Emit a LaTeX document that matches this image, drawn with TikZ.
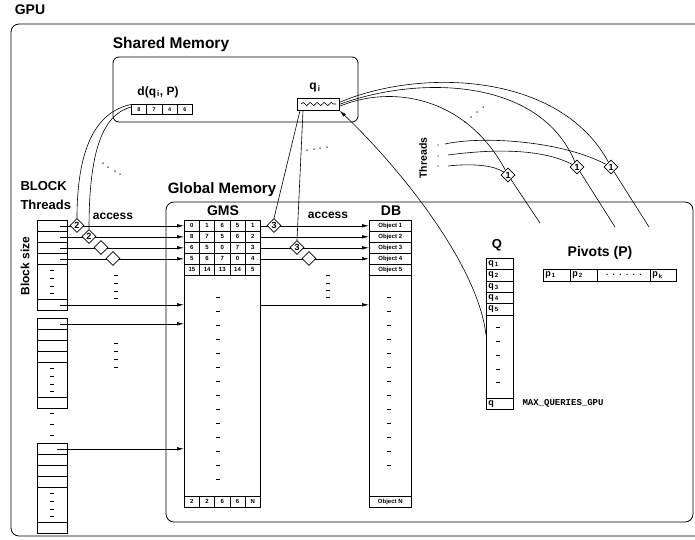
\documentclass[tikz,border=0pt]{standalone}
\usepackage{fontspec}
\setmainfont{Liberation Sans}
\setmonofont{Liberation Mono}
\usetikzlibrary{shapes.geometric,arrows.meta,decorations.pathmorphing}
\newcommand\fsz[1]{\fontsize{#1}{#1}\selectfont}
\tikzset{
  mem/.style={draw,rounded corners=8pt,line width=.8pt},
  cell/.style={draw,line width=.6pt,inner sep=0pt,anchor=north west,font=\bfseries\fsz{6}},
  qcell/.style={cell,inner xsep=2pt,text width=23pt,align=left,minimum height=11.3pt,font=\bfseries\fsz{9}},
  pcell/.style={cell,inner xsep=2pt,align=left,minimum height=12pt,font=\bfseries\fsz{9}},
  head/.style={font=\bfseries\fsz{#1}},
  dashmark/.style={line width=.9pt},
  wire/.style={line width=.6pt},
  ptr/.style={line width=.6pt,-{Latex[length=7pt,width=3.5pt]}},
  pass/.style={diamond,draw,fill=white,inner sep=0pt,minimum size=14pt,line width=.6pt,font=\bfseries\fsz{9}},
}
\begin{document}
\begin{tikzpicture}[x=1pt,y=-1pt]
  \useasboundingbox (0,0) rectangle (695,539);
  \draw[mem] (11,24) rectangle (705,536);
  \draw[mem,rounded corners=6pt] (113,57) rectangle (358,122);
  \draw[mem] (166,202) rectangle (693,522);

  \node[head=14] (gpu) at (30,10) {GPU};
  \node[head=15.5] (shmem) at (171,44) {Shared Memory};
  \node[head=15] (glmem) at (222,190) {Global Memory};
  \node[head=14] (gmstitle) at (223,211) {GMS};
  \node[head=14] (dbtitle) at (391,211) {DB};
  \node[head=13] (qtitle) at (497,245) {Q};
  \node[head=14] (pvtitle) at (600,253) {Pivots (P)};
  \node[head=13,anchor=west] (blockl) at (17,186) {BLOCK};
  \node[head=13,anchor=west] (threadl) at (17,205) {Threads};
  \node[head=12,rotate=90] (bsize) at (25,266) {Block size};
  \node[head=12] (acc1) at (113,216) {access};
  \node[head=12] (acc2) at (328,215) {access};
  \node[head=10.5,rotate=90] (thrl) at (423,158) {Threads};
  \node[head=12] (dlabel) at (158,92) {d(q\kern1pt\textsubscript{i}, P)};
  \node[head=12] (qilabel) at (315,88) {q\kern1pt\textsubscript{i}};

  % shared memory
  \foreach \v [count=\c] in {8,7,4,6}
    \node[cell,minimum width=15.3pt,minimum height=10pt,font=\bfseries\fsz{5.5}] (d\c) at ({131+15.3*(\c-1)},104) {\v};
  \node[cell,minimum width=42pt,minimum height=12pt] (qi) at (297,98) {};
  \draw[wire,decorate,decoration={snake,segment length=7pt,amplitude=1.6pt}] (301,104) -- (336,104);

  % GMS and DB
  \node[cell,minimum width=76pt,minimum height=287pt] (gmscol) at (184,220) {};
  \foreach \row [count=\r] in {{0,1,6,5,1},{8,7,5,6,2},{6,5,0,7,3},{5,6,7,0,4},{15,14,13,14,5}}
    \foreach \v [count=\c] in \row
      \node[cell,minimum width=15.2pt,minimum height=11pt] (g\r\c) at ({184+15.2*(\c-1)},{220+11*(\r-1)}) {\v};
  \foreach \v [count=\c] in {2,2,6,6,N}
    \node[cell,minimum width=15.2pt,minimum height=11pt] (gN\c) at ({184+15.2*(\c-1)},496) {\v};
  \foreach \i in {0,...,13}
    \draw[dashmark] (216.2,{297+14*\i}) -- ++(3.6,0);

  \node[cell,minimum width=42pt,minimum height=287pt] (dbcol) at (369,220) {};
  \foreach \r in {1,...,5}
    \node[cell,minimum width=42pt,minimum height=11pt] (db\r) at (369,{220+11*(\r-1)}) {Object \r};
  \node[cell,minimum width=42pt,minimum height=11pt] (dbN) at (369,496) {Object N};
  \foreach \i in {0,...,12}
    \draw[dashmark] (387.2,{297+14*\i}) -- ++(3.6,0);

  % thread blocks
  \foreach \t/\n in {220/A,318/B,443/C} {
    \foreach \o/\h [count=\k] in {0/11,11/11,22/11,33/11,44/35,79/11}
      \node[cell,minimum width=30pt,minimum height=\h pt] (blk\n\k) at (37,\t+\o) {};
    \foreach \o in {50,58,66,73}
      \draw[dashmark] (50.2,\t+\o) -- ++(3.6,0);
  }
  \foreach \y in {413,424,435}
    \draw[dashmark] (50.2,\y) -- ++(3.6,0);
  \foreach \y in {275,283,291,298,343,351,359,367}
    \draw[dashmark] (114.2,\y) -- ++(3.6,0);
  \foreach \y in {275,283,290,297}
    \draw[dashmark] (326.2,\y) -- ++(3.6,0);

  \foreach \r in {1,...,4} {
    \draw[ptr] ([xshift=8pt]blkA\r.center) -- (g\r1.west);
    \draw[ptr] (g\r5.east) -- (db\r.west);
  }
  \draw[ptr] ([xshift=8pt]blkA6.center) -- (blkA6 -| gmscol.west);
  \draw[ptr] ([xshift=8pt]blkB1.center) -- (blkB1 -| gmscol.west);
  \draw[ptr] ([xshift=5pt]blkC1.center) -- (blkC1 -| gmscol.west);
  \draw[ptr] (gmscol.east |- blkA6) -- (dbcol.west |- blkA6);

  % Q and pivots
  \node[cell,minimum width=27pt,minimum height=151pt] (qcol) at (486,258) {};
  \foreach \k in {1,...,5}
    \node[qcell] (q\k) at (486,{258+11.3*(\k-1)}) {q\kern1pt\textsubscript{\k}};
  \node[qcell,minimum height=11pt] (qN) at (486,398) {q};
  \foreach \y in {327,341,355,369,382}
    \draw[dashmark] (496.2,\y) -- ++(3.6,0);
  \node[anchor=west,font=\ttfamily\bfseries\fsz{9}] (maxq) at (519,403.5) {MAX\_QUERIES\_GPU};

  \node[pcell,text width=23pt] (p1) at (543,269) {p\kern1pt\textsubscript{1}};
  \node[pcell,text width=23pt] (p2) at (570,269) {p\kern1pt\textsubscript{2}};
  \node[cell,minimum width=53pt,minimum height=12pt,font=\bfseries\fsz{8}] (pdots) at (597,269) {.\ \ .\ \ .\ \ .\ \ .\ \ .};
  \node[pcell,text width=22pt] (pk) at (650,269) {p\kern1pt\textsubscript{k}};

  % links
  \coordinate (qtail) at (486,335);
  \draw[wire,-{Latex[length=7pt,width=3.5pt]}] (qtail) .. controls (478,265) and (400,168) .. (qi.south east);

  \node[pass] (a1) at (77,225.5) {2};
  \node[pass] (a2) at (89,236.5) {2};
  \node[pass] (a3) at (101,247.5) {};
  \node[pass] (a4) at (113,258.5) {};
  \node[pass] (b1) at (274,225.5) {3};
  \node[pass] (b3) at (297,247.5) {3};
  \node[pass] (b4) at (309,258.5) {};
  \node[pass] (t1) at (508,175) {1};
  \node[pass] (t2) at (577,167) {1};
  \node[pass] (t3) at (611,167) {1};

  \draw[wire] ([yshift=-.5pt]d1.north west) .. controls (95,112) and (77,150) .. (a1.north);
  \draw[wire] ([yshift=-3pt]d1.north west) .. controls (101,115) and (89,155) .. (a2.north);
  \draw[wire] ([xshift=3pt]qi.south west) -- (b1.north);
  \draw[wire] ([xshift=6pt]qi.south west) -- (b3.north);

  \coordinate (e1) at (540,223);
  \coordinate (e2) at (615,227);
  \coordinate (e3) at (649,227);
  \draw[wire] ([yshift=2pt]qi.east) .. controls (420,68) and (560,72) .. (t3) -- (e3);
  \draw[wire] (qi.east) .. controls (420,75) and (540,78) .. (t2) -- (e2);
  \draw[wire] ([yshift=-2pt]qi.east) .. controls (390,85) and (465,95) .. (t1) -- (e1);

  \coordinate (s1) at (445,144);
  \coordinate (s2) at (448,155);
  \coordinate (s3) at (448,166);
  \draw[wire] (s1) .. controls (480,136) and (560,140) .. (t3);
  \draw[wire] (s2) .. controls (500,148) and (545,150) .. (t2);
  \draw[wire] (s3) .. controls (475,163) and (495,166) .. (t1);
  \foreach \y in {145,156,166}
    \fill (438,\y) circle (.7pt);

  \foreach \p in {(103,163),(108,167),(115,171),(120,174),
                  (307,150),(314,149),(320,148),(327,147),
                  (465,122),(471,117),(477,112),(483,107)}
    \fill \p circle (.75pt);
\end{tikzpicture}
\end{document}
